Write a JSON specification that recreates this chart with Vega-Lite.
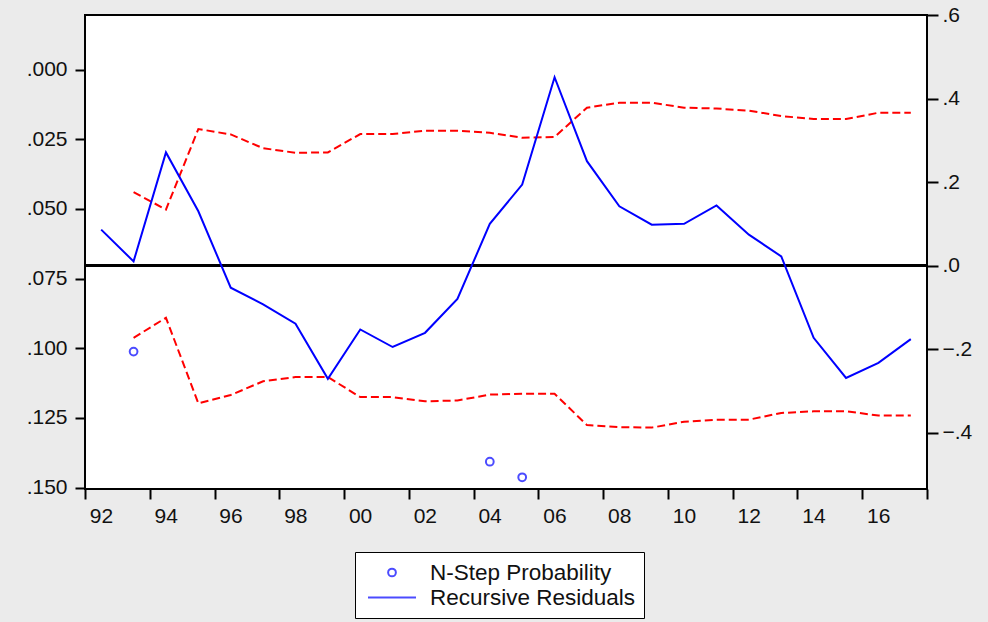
{
  "$schema": "https://vega.github.io/schema/vega-lite/v6.json",
  "autosize": {"type": "none"},
  "width": 842,
  "height": 474,
  "padding": {"left": 85, "top": 15, "right": 61, "bottom": 133},
  "background": "#ebebeb",
  "config": {
    "view": {"fill": "#ffffff", "stroke": "#000000", "strokeWidth": 2},
    "font": "Liberation Sans",
    "legend": {
      "title": null, "orient": "none", "legendX": 270, "legendY": 537,
      "direction": "vertical",
      "fillColor": "#ffffff", "strokeColor": "#000000", "padding": 8,
      "symbolStrokeWidth": 2, "symbolOffset": 4, "clipHeight": 25, "rowPadding": 0,
      "labelFontSize": 22.5, "labelColor": "#111111", "labelOffset": 13, "labelLimit": 400, "labelFont": "Liberation Sans"
    }
  },
  "datasets": {
    "main": [
      {"year": 1992, "resid": 0.086, "upper": null, "lower": null},
      {"year": 1993, "resid": 0.010, "upper": 0.176, "lower": -0.173},
      {"year": 1994, "resid": 0.271, "upper": 0.134, "lower": -0.125},
      {"year": 1995, "resid": 0.130, "upper": 0.327, "lower": -0.330},
      {"year": 1996, "resid": -0.053, "upper": 0.314, "lower": -0.310},
      {"year": 1997, "resid": -0.093, "upper": 0.281, "lower": -0.277},
      {"year": 1998, "resid": -0.139, "upper": 0.270, "lower": -0.267},
      {"year": 1999, "resid": -0.271, "upper": 0.271, "lower": -0.267},
      {"year": 2000, "resid": -0.153, "upper": 0.315, "lower": -0.315},
      {"year": 2001, "resid": -0.195, "upper": 0.315, "lower": -0.315},
      {"year": 2002, "resid": -0.161, "upper": 0.323, "lower": -0.325},
      {"year": 2003, "resid": -0.080, "upper": 0.323, "lower": -0.323},
      {"year": 2004, "resid": 0.100, "upper": 0.318, "lower": -0.309},
      {"year": 2005, "resid": 0.194, "upper": 0.306, "lower": -0.307},
      {"year": 2006, "resid": 0.451, "upper": 0.308, "lower": -0.307},
      {"year": 2007, "resid": 0.250, "upper": 0.378, "lower": -0.382},
      {"year": 2008, "resid": 0.142, "upper": 0.390, "lower": -0.387},
      {"year": 2009, "resid": 0.098, "upper": 0.390, "lower": -0.388},
      {"year": 2010, "resid": 0.100, "upper": 0.378, "lower": -0.374},
      {"year": 2011, "resid": 0.144, "upper": 0.376, "lower": -0.369},
      {"year": 2012, "resid": 0.074, "upper": 0.371, "lower": -0.369},
      {"year": 2013, "resid": 0.022, "upper": 0.358, "lower": -0.353},
      {"year": 2014, "resid": -0.173, "upper": 0.351, "lower": -0.349},
      {"year": 2015, "resid": -0.269, "upper": 0.351, "lower": -0.349},
      {"year": 2016, "resid": -0.233, "upper": 0.366, "lower": -0.359},
      {"year": 2017, "resid": -0.176, "upper": 0.366, "lower": -0.359}
    ],
    "prob": [
      {"year": 1993, "prob": 0.1012},
      {"year": 2004, "prob": 0.1407},
      {"year": 2005, "prob": 0.1463}
    ]
  },
  "layer": [
    {
      "data": {"name": "prob"},
      "mark": {"type": "point", "filled": false, "strokeWidth": 2},
      "encoding": {
        "x": {
          "field": "year", "type": "quantitative",
          "scale": {"domain": [1991.5, 2017.5], "nice": false, "zero": false},
          "axis": {
            "title": null, "orient": "bottom", "grid": false, "domain": false,
            "values": [1991.5, 1992.5, 1993.5, 1994.5, 1995.5, 1996.5, 1997.5, 1998.5, 1999.5, 2000.5, 2001.5, 2002.5, 2003.5, 2004.5, 2005.5, 2006.5, 2007.5, 2008.5, 2009.5, 2010.5, 2011.5, 2012.5, 2013.5, 2014.5, 2015.5, 2016.5, 2017.5],
            "labelExpr": "((datum.value + 0.5) % 2 === 0 && datum.value < 2017) ? substring(toString(datum.value + 0.5), 2, 4) : ''",
            "labelOffset": 16, "labelOverlap": false, "labelFlush": false, "labelBound": false,
            "tickSize": 10, "tickWidth": 2, "tickColor": "#000000",
            "labelFontSize": 21, "labelColor": "#111111", "labelPadding": 6, "labelFont": "Liberation Sans"
          }
        },
        "y": {
          "field": "prob", "type": "quantitative",
          "scale": {"domain": [-0.0196, 0.1505], "nice": false, "zero": false, "reverse": true},
          "axis": {
            "title": null, "orient": "left", "grid": false, "domain": false,
            "values": [0, 0.025, 0.05, 0.075, 0.1, 0.125, 0.15],
            "labelExpr": "replace(format(datum.value, '.3f'), '0.', '.')",
            "tickSize": 10, "tickWidth": 2, "tickColor": "#000000",
            "labelFontSize": 21, "labelColor": "#111111", "labelPadding": 8, "labelFont": "Liberation Sans"
          }
        },
        "color": {
          "datum": "N-Step Probability", "type": "nominal",
          "scale": {"domain": ["N-Step Probability", "Recursive Residuals"], "range": ["#0000ff", "#0000ff"]},
          "legend": {"title": null}
        },
        "shape": {
          "datum": "N-Step Probability", "type": "nominal",
          "scale": {"domain": ["N-Step Probability", "Recursive Residuals"], "range": ["circle", "stroke"]},
          "legend": {"title": null}
        },
        "size": {
          "datum": "N-Step Probability", "type": "ordinal",
          "scale": {"domain": ["N-Step Probability", "Recursive Residuals"], "range": [60, 2304]},
          "legend": {"title": null}
        }
      }
    },
    {
      "data": {"name": "main"},
      "layer": [
        {
          "mark": {"type": "rule", "color": "#000000", "strokeWidth": 2},
          "encoding": {
            "y": {"datum": 0, "type": "quantitative"}
          }
        },
        {
          "mark": {"type": "line", "color": "#ff0000", "strokeWidth": 2, "strokeDash": [8, 4]},
          "encoding": {
            "x": {"field": "year", "type": "quantitative", "scale": {"domain": [1991.5, 2017.5], "nice": false, "zero": false}, "axis": {"title": null}},
            "y": {"field": "upper", "type": "quantitative", "scale": {"domain": [-0.535, 0.6], "nice": false, "zero": false}, "axis": {"title": null}}
          }
        },
        {
          "mark": {"type": "line", "color": "#ff0000", "strokeWidth": 2, "strokeDash": [8, 4]},
          "encoding": {
            "x": {"field": "year", "type": "quantitative", "scale": {"domain": [1991.5, 2017.5], "nice": false, "zero": false}, "axis": {"title": null}},
            "y": {"field": "lower", "type": "quantitative", "scale": {"domain": [-0.535, 0.6], "nice": false, "zero": false}, "axis": {"title": null}}
          }
        },
        {
          "mark": {"type": "line", "strokeWidth": 2},
          "encoding": {
            "x": {"field": "year", "type": "quantitative", "scale": {"domain": [1991.5, 2017.5], "nice": false, "zero": false}, "axis": {"title": null}},
            "y": {
              "field": "resid", "type": "quantitative",
              "scale": {"domain": [-0.535, 0.6], "nice": false, "zero": false},
              "axis": {
                "title": null, "orient": "right", "grid": false, "domain": false,
                "values": [-0.4, -0.2, 0, 0.2, 0.4, 0.6],
                "labelExpr": "replace(format(datum.value, '.1f'), '0.', '.')",
                "tickSize": 11, "tickWidth": 2, "tickColor": "#000000",
                "labelFontSize": 21, "labelColor": "#111111", "labelPadding": 4, "labelFont": "Liberation Sans"
              }
            },
            "color": {"datum": "Recursive Residuals", "type": "nominal"}
          }
        }
      ]
    }
  ],
  "resolve": {"scale": {"y": "independent"}}
}
